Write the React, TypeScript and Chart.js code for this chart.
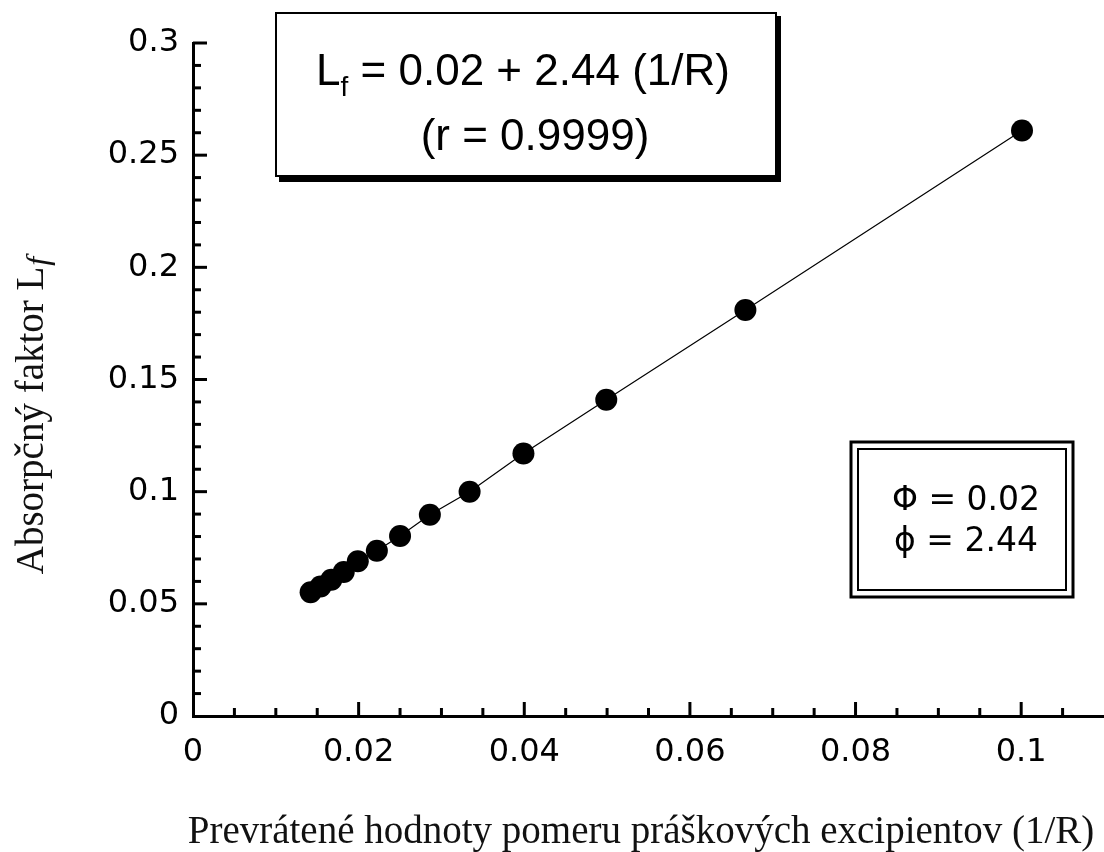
import React, { useEffect, useRef } from "react";
import { Chart, registerables } from "chart.js";

Chart.register(...registerables);

// Reciprocal of powder excipient ratio (1/R) and absorption factor Lf
const xValues = [0.0142, 0.0154, 0.0167, 0.0182, 0.0199, 0.0222, 0.025, 0.0286, 0.0334, 0.0399, 0.0499, 0.0667, 0.1001];
const yValues = [0.0552, 0.0577, 0.0607, 0.0642, 0.069, 0.0737, 0.0802, 0.0897, 0.1, 0.117, 0.141, 0.181, 0.261];

const xTicks = [0, 0.02, 0.04, 0.06, 0.08, 0.1];
const xTickLabels = ["0", "0.02", "0.04", "0.06", "0.08", "0.1"];
const yTicks = [0, 0.05, 0.1, 0.15, 0.2, 0.25, 0.3];
const yTickLabels = ["0", "0.05", "0.1", "0.15", "0.2", "0.25", "0.3"];

const xTitle = "Prevrátené hodnoty pomeru práškových excipientov (1/R)";
const yTitleMain = "Absorpčný faktor L";
const yTitleSub = "f";
const eqMainL = "L";
const eqSub = "f";
const eqRest = " = 0.02 + 2.44 (1/R)";
const eqLine2 = "(r = 0.9999)";
const boxLine1 = "Φ = 0.02";
const boxLine2 = "ϕ = 2.44";

const SANS = '"Liberation Sans", Arial, sans-serif';
const WIDE = '"DejaVu Sans", "Liberation Sans", sans-serif';
const SERIF = '"Liberation Serif", "Times New Roman", serif';

const decorPlugin = {
  id: "decor",
  afterDraw(chart: any) {
    const ctx = chart.ctx as CanvasRenderingContext2D;
    const xs = chart.scales.x;
    const ys = chart.scales.y;
    const area = chart.chartArea;
    ctx.save();
    ctx.strokeStyle = "#000";
    ctx.fillStyle = "#000";
    // inward ticks
    ctx.lineWidth = 3;
    for (let i = 1; i <= 22; i++) {
      const v = i * 0.005;
      const px = xs.getPixelForValue(v);
      if (px > area.right - 2) continue;
      const major = i % 4 === 0;
      ctx.beginPath();
      ctx.moveTo(px, area.bottom);
      ctx.lineTo(px, area.bottom - (major ? 14 : 8));
      ctx.stroke();
    }
    for (let i = 1; i <= 30; i++) {
      const v = i * 0.01;
      const py = ys.getPixelForValue(v);
      const major = i % 5 === 0;
      ctx.beginPath();
      ctx.moveTo(area.left, py);
      ctx.lineTo(area.left + (major ? 14 : 8), py);
      ctx.stroke();
    }

    // equation box
    ctx.fillStyle = "#fff";
    ctx.fillRect(276, 13, 500, 163);
    ctx.fillStyle = "#000";
    ctx.lineWidth = 2;
    ctx.strokeRect(276, 13, 500, 163);
    ctx.fillRect(279, 175, 502, 7);
    ctx.fillRect(776, 16, 5, 166);

    ctx.textBaseline = "alphabetic";
    ctx.textAlign = "left";
    ctx.font = `44px ${SANS}`;
    const wL = ctx.measureText(eqMainL).width;
    const wRest = ctx.measureText(eqRest).width;
    ctx.font = `28px ${SANS}`;
    const wSub = ctx.measureText(eqSub).width;
    const total = wL + wSub + wRest;
    let sx = 523 - total / 2;
    ctx.font = `44px ${SANS}`;
    ctx.fillText(eqMainL, sx, 85);
    ctx.font = `28px ${SANS}`;
    ctx.fillText(eqSub, sx + wL, 96);
    ctx.font = `44px ${SANS}`;
    ctx.fillText(eqRest, sx + wL + wSub, 85);
    ctx.textAlign = "center";
    ctx.fillText(eqLine2, 535, 150);

    // parameter box (double border)
    ctx.fillStyle = "#fff";
    ctx.fillRect(851, 442, 222, 155);
    ctx.fillStyle = "#000";
    ctx.lineWidth = 3;
    ctx.strokeRect(851, 442, 222, 155);
    ctx.lineWidth = 2;
    ctx.strokeRect(858, 449, 208, 141);
    ctx.font = `33px ${WIDE}`;
    ctx.textAlign = "center";
    ctx.fillText(boxLine1, 966, 510);
    ctx.fillText(boxLine2, 966, 551);

    // x title
    ctx.fillStyle = "#111";
    ctx.font = `39px ${SERIF}`;
    ctx.textAlign = "center";
    ctx.fillText(xTitle, 641, 843);

    // y title
    ctx.save();
    ctx.translate(43, 416);
    ctx.rotate(-Math.PI / 2);
    ctx.font = `39px ${SERIF}`;
    const wm = ctx.measureText(yTitleMain).width;
    ctx.font = `italic 32px ${SERIF}`;
    const ws = ctx.measureText(yTitleSub).width;
    const tw = wm + ws;
    ctx.textAlign = "left";
    ctx.font = `39px ${SERIF}`;
    ctx.fillText(yTitleMain, -tw / 2, 0);
    ctx.font = `italic 32px ${SERIF}`;
    ctx.fillText(yTitleSub, -tw / 2 + wm + 1, 5);
    ctx.restore();

    ctx.restore();
  },
};

export default function App() {
  const ref = useRef<HTMLCanvasElement | null>(null);
  useEffect(() => {
    document.body.style.margin = "0";
    const canvas = ref.current!;
    const chart = new Chart(canvas, {
      type: "scatter",
      data: {
        datasets: [
          {
            data: xValues.map((x, i) => ({ x, y: yValues[i] })),
            showLine: true,
            borderColor: "#000",
            borderWidth: 1.2,
            backgroundColor: "#000",
            pointBackgroundColor: "#000",
            pointBorderColor: "#000",
            pointRadius: 11,
            pointBorderWidth: 0,
          },
        ],
      },
      options: {
        responsive: false,
        animation: false,
        layout: { autoPadding: false, padding: { top: 43, right: 0, left: 0, bottom: 0 } },
        plugins: { legend: { display: false }, tooltip: { enabled: false } },
        scales: {
          x: {
            type: "linear",
            min: 0,
            max: 0.11,
            afterBuildTicks: (s: any) => {
              s.ticks = xTicks.map((v) => ({ value: v }));
            },
            afterFit: (s: any) => {
              s.height = 136;
            },
            grid: { display: false, drawTicks: false },
            border: { display: true, color: "#000", width: 3 },
            ticks: {
              autoSkip: false,
              maxRotation: 0,
              padding: 17,
              color: "#000",
              font: { family: WIDE, size: 32 },
              callback: (v: any) => {
                const i = xTicks.findIndex((t) => Math.abs(t - Number(v)) < 1e-9);
                return i >= 0 ? xTickLabels[i] : "";
              },
            },
          },
          y: {
            type: "linear",
            min: 0,
            max: 0.3,
            afterBuildTicks: (s: any) => {
              s.ticks = yTicks.map((v) => ({ value: v }));
            },
            afterFit: (s: any) => {
              s.width = 193;
            },
            grid: { display: false, drawTicks: false },
            border: { display: true, color: "#000", width: 3 },
            ticks: {
              autoSkip: false,
              padding: 14,
              color: "#000",
              font: { family: WIDE, size: 32 },
              callback: (v: any) => {
                const i = yTicks.findIndex((t) => Math.abs(t - Number(v)) < 1e-9);
                return i >= 0 ? yTickLabels[i] : "";
              },
            },
          },
        },
      },
      plugins: [decorPlugin],
    });
    return () => chart.destroy();
  }, []);
  return (
    <div style={{ position: "absolute", left: 0, top: 0, width: 1104, height: 852, background: "#fff" }}>
      <canvas ref={ref} width={1104} height={852} />
    </div>
  );
}
